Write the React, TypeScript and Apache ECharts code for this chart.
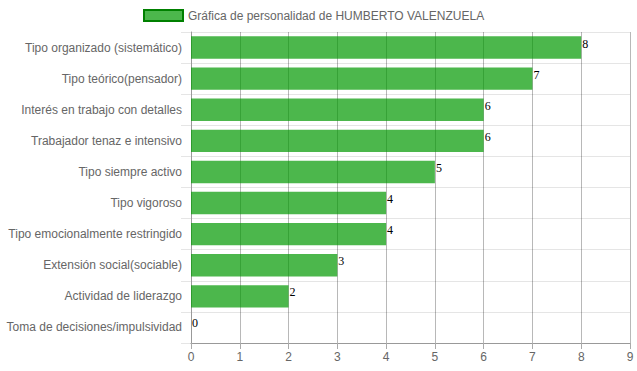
import React, { useEffect, useRef } from "react";
import * as echarts from "echarts";

const categories = [
  "Tipo organizado (sistemático)",
  "Tipo teórico(pensador)",
  "Interés en trabajo con detalles",
  "Trabajador tenaz e intensivo",
  "Tipo siempre activo",
  "Tipo vigoroso",
  "Tipo emocionalmente restringido",
  "Extensión social(sociable)",
  "Actividad de liderazgo",
  "Toma de decisiones/impulsividad",
];
const values = [8, 7, 6, 6, 5, 4, 4, 3, 2, 0];
const seriesName = "Gráfica de personalidad de HUMBERTO VALENZUELA";

export default function App() {
  const ref = useRef<HTMLDivElement>(null);
  useEffect(() => {
    if (!ref.current) return;
    const chart = echarts.init(ref.current, null, { renderer: "svg" });
    chart.setOption({
      animation: false,
      textStyle: { fontFamily: "Liberation Sans, Arial, sans-serif" },
      legend: {
        left: 138,
        top: 4,
        itemWidth: 39,
        itemHeight: 11,
        icon: "rect",
        data: [seriesName],
        textStyle: { color: "#666", fontSize: 12, fontFamily: "Liberation Sans, Arial, sans-serif" },
        itemStyle: { borderColor: "#008000", borderWidth: 2 },
      },
      grid: { left: 191, right: 7, top: 32, bottom: 28 },
      xAxis: {
        type: "value",
        min: 0,
        max: 9,
        interval: 1,
        axisLine: { show: true, lineStyle: { color: "#999" } },
        axisTick: { show: true, length: 6, lineStyle: { color: "#aaa" } },
        axisLabel: { color: "#666", fontSize: 12, margin: 8 },
        splitLine: { show: true, lineStyle: { color: "rgba(0,0,0,0.28)" } },
      },
      yAxis: {
        type: "category",
        inverse: true,
        data: categories,
        axisLine: { show: true, lineStyle: { color: "#999" } },
        axisTick: { show: true, length: 10, lineStyle: { color: "rgba(0,0,0,0.1)" } },
        axisLabel: { color: "#666", fontSize: 12, margin: 9 },
        splitLine: { show: true, lineStyle: { color: "rgba(0,0,0,0.1)" } },
      },
      series: [
        {
          name: seriesName,
          type: "bar",
          data: values,
          barCategoryGap: "28%",
          itemStyle: { color: "rgba(0,153,0,0.7)" },
          label: {
            show: true,
            position: "right",
            distance: 1,
            offset: [0, -4],
            color: "#000",
            fontSize: 12,
            fontFamily: "Liberation Serif, Times New Roman, serif",
          },
        },
      ],
    });
    return () => chart.dispose();
  }, []);
  return (
    <div
      ref={ref}
      style={{ position: "absolute", left: 0, top: 0, width: 637, height: 371 }}
    />
  );
}
